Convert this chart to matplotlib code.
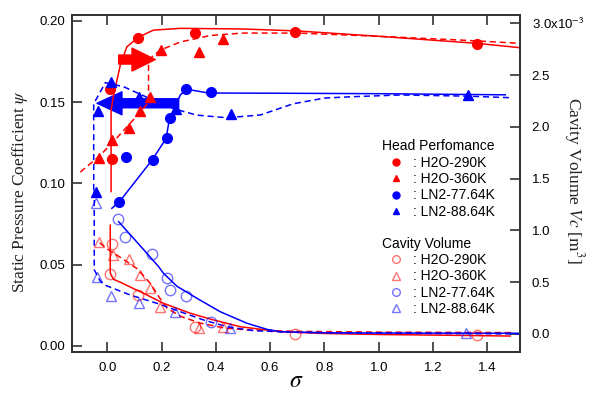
import numpy as np
import matplotlib
matplotlib.use("Agg")
import matplotlib.pyplot as plt
from matplotlib.lines import Line2D
from matplotlib.patches import FancyArrowPatch

plt.rcParams['font.family'] = 'Liberation Sans'
plt.rcParams['mathtext.fontset'] = 'stix'

# ---- head performance (left axis, psi) ----
sig_h290 = [0.011, 0.017, 0.113, 0.324, 0.692, 1.362]
psi_h290 = [0.158, 0.115, 0.1896, 0.1927, 0.1933, 0.1855]
sig_h360 = [-0.03, 0.019, 0.079, 0.12, 0.158, 0.198, 0.336, 0.428]
psi_h360 = [0.1155, 0.127, 0.134, 0.1445, 0.153, 0.182, 0.181, 0.189]
sig_l776 = [0.045, 0.069, 0.167, 0.22, 0.23, 0.29, 0.382]
psi_l776 = [0.0888, 0.116, 0.1144, 0.1277, 0.140, 0.158, 0.156]
sig_l886 = [-0.04, -0.036, 0.014, 0.118, 0.254, 0.456, 1.327]
psi_l886 = [0.0945, 0.1445, 0.1626, 0.153, 0.1458, 0.1425, 0.1544]

# fitted curves
fit_h290_s = [0.014, 0.014, 0.023, 0.048, 0.072, 0.115, 0.17, 0.27, 0.5, 0.7, 1.0, 1.36, 1.52]
fit_h290_p = [0.095, 0.145, 0.154, 0.1728, 0.184, 0.190, 0.1943, 0.1954, 0.195, 0.1938, 0.1905, 0.1862, 0.1835]
fit_h360_s = [-0.099, -0.028, 0.019, 0.079, 0.128, 0.152, 0.152, 0.165, 0.195, 0.269, 0.379, 0.5, 0.7, 1.0, 1.3, 1.52]
fit_h360_p = [0.107, 0.117, 0.125, 0.136, 0.145, 0.150, 0.1728, 0.178, 0.182, 0.187, 0.191, 0.1925, 0.1925, 0.1905, 0.1882, 0.1862]
fit_l776_s = [0.017, 0.045, 0.165, 0.217, 0.229, 0.269, 0.291, 0.373, 0.6, 1.0, 1.466]
fit_l776_p = [0.0847, 0.0888, 0.1144, 0.1277, 0.140, 0.1544, 0.158, 0.1556, 0.1555, 0.1552, 0.1545]
fit_l886_s = [-0.05, -0.05, -0.007, 0.06, 0.146, 0.244, 0.33, 0.44, 0.564, 0.685, 0.8, 0.895, 1.079, 1.325, 1.49]
fit_l886_p = [0.096, 0.149, 0.162, 0.1595, 0.153, 0.146, 0.142, 0.1404, 0.1421, 0.149, 0.1525, 0.1533, 0.1544, 0.1537, 0.1527]

# ---- cavity volume (right axis, x1e-3 m^3) ----
csig_h290 = [0.017, 0.011, 0.112, 0.324, 0.692, 1.362]
vc_h290 = [0.872, 0.582, 0.38, 0.068, 0.0, -0.01]
csig_h360 = [-0.03, 0.021, 0.08, 0.12, 0.158, 0.196, 0.336, 0.425]
vc_h360 = [0.885, 0.766, 0.72, 0.57, 0.44, 0.265, 0.055, 0.067]
csig_l776 = [0.04, 0.067, 0.164, 0.22, 0.23, 0.29, 0.382]
vc_l776 = [1.11, 0.937, 0.77, 0.537, 0.422, 0.364, 0.111]
csig_l886 = [-0.04, -0.038, 0.012, 0.116, 0.25, 0.453, 1.321]
vc_l886 = [1.267, 0.553, 0.367, 0.3, 0.215, 0.055, 0.007]

cfit_h290_s = [0.011, 0.011, 0.023, 0.048, 0.103, 0.122, 0.207, 0.306, 0.392, 0.49, 0.637, 0.8, 1.0, 1.25, 1.484]
cfit_h290_v = [1.05, 0.586, 0.528, 0.50, 0.43, 0.408, 0.296, 0.20, 0.135, 0.07, 0.022, 0.005, -0.005, -0.012, -0.02]
cfit_h360_s = [-0.028, 0.0, 0.06, 0.11, 0.158, 0.195, 0.22, 0.27, 0.343, 0.43, 0.52, 0.7, 1.0, 1.3, 1.495]
cfit_h360_v = [0.88, 0.82, 0.72, 0.63, 0.49, 0.34, 0.25, 0.17, 0.105, 0.058, 0.038, 0.025, 0.018, 0.015, 0.013]
cfit_l776_s = [0.042, 0.146, 0.189, 0.207, 0.257, 0.33, 0.416, 0.515, 0.588, 0.637, 0.8, 1.0, 1.52]
cfit_l776_v = [1.084, 0.779, 0.65, 0.586, 0.46, 0.345, 0.215, 0.103, 0.045, 0.022, 0.012, 0.009, 0.007]
cfit_l886_s = [-0.048, -0.048, -0.026, -0.007, 0.085, 0.183, 0.269, 0.355, 0.441, 0.539, 0.7, 1.0, 1.52]
cfit_l886_v = [1.39, 0.62, 0.51, 0.47, 0.376, 0.296, 0.215, 0.135, 0.07, 0.032, 0.015, 0.008, 0.0]

legend_labels = [': H2O-290K', ': H2O-360K', ': LN2-77.64K', ': LN2-88.64K']

# arrows (tail, tip) in data coords
red_arrow = [(0.042, 0.1762), (0.177, 0.1762)]
blue_arrow = [(0.263, 0.1493), (-0.038, 0.1493)]

RED = '#ff0000'
BLUE = '#0000ff'
spine_c = '#333333'

fig = plt.figure(figsize=(5.9, 3.94), dpi=100)
ax = fig.add_axes([0.122, 0.1066, 0.7593, 0.8553])
ax2 = ax.twinx()

# arrows below markers
for (tail, tip), col, hl in [(red_arrow, RED, 16.8), (blue_arrow, BLUE, 18.0)]:
    arr = FancyArrowPatch(tail, tip, arrowstyle='simple,head_length=%g,head_width=16.5,tail_width=6.5' % hl,
                          mutation_scale=1, color=col, shrinkA=0, shrinkB=0, zorder=1)
    ax.add_patch(arr)

lw = 1.1
ax.plot(fit_h290_s, fit_h290_p, color=RED, lw=lw, zorder=2)
ax.plot(fit_h360_s, fit_h360_p, color=RED, lw=lw, ls=(0, (4, 2.5)), zorder=2)
ax.plot(fit_l776_s, fit_l776_p, color=BLUE, lw=lw, zorder=2)
ax.plot(fit_l886_s, fit_l886_p, color=BLUE, lw=lw, ls=(0, (4, 2.5)), zorder=2)

ms = 7
ax.plot(sig_h290, psi_h290, ls='none', marker='o', ms=ms, color=RED, zorder=3)
ax.plot(sig_h360, psi_h360, ls='none', marker='^', ms=ms, color=RED, zorder=3)
ax.plot(sig_l776, psi_l776, ls='none', marker='o', ms=ms, color=BLUE, zorder=3)
ax.plot(sig_l886, psi_l886, ls='none', marker='^', ms=ms, color=BLUE, zorder=3)

ax2.plot(cfit_h290_s, cfit_h290_v, color=RED, lw=lw)
ax2.plot(cfit_h360_s, cfit_h360_v, color=RED, lw=lw, ls=(0, (4, 2.5)))
ax2.plot(cfit_l776_s, cfit_l776_v, color=BLUE, lw=lw)
ax2.plot(cfit_l886_s, cfit_l886_v, color=BLUE, lw=lw, ls=(0, (4, 2.5)))

oms = 7.5
oa = 0.55
ax2.plot(csig_h290, vc_h290, ls='none', marker='o', ms=oms, mfc='none', mec=RED, mew=1.0, alpha=oa)
ax2.plot(csig_h360, vc_h360, ls='none', marker='^', ms=oms, mfc='none', mec=RED, mew=1.0, alpha=oa)
ax2.plot(csig_l776, vc_l776, ls='none', marker='o', ms=oms, mfc='none', mec=BLUE, mew=1.0, alpha=oa)
ax2.plot(csig_l886, vc_l886, ls='none', marker='^', ms=oms, mfc='none', mec=BLUE, mew=1.0, alpha=oa)

ax.set_xlim(-0.13, 1.52)
ax.set_ylim(-0.0037, 0.2036)
ax2.set_ylim(-0.174, 3.08)

ax.set_xticks(np.arange(0, 1.41, 0.2))
ax.set_xticklabels(['%.1f' % v for v in np.arange(0, 1.41, 0.2)])
ax.set_yticks(np.arange(0, 0.201, 0.05))
ax.set_yticklabels(['%.2f' % v for v in np.arange(0, 0.201, 0.05)])
rt = np.arange(0, 3.01, 0.5)
ax2.set_yticks(rt)
ax2.set_yticklabels(['%.1f' % v for v in rt[:-1]] + [r'3.0x10$^{\mathsf{-3}}$'])

ax.tick_params(axis='both', direction='in', length=7, width=1.2, color=spine_c, labelsize=9.5)
ax.tick_params(axis='x', top=True, pad=7)
ax.tick_params(axis='y', pad=5)
ax2.tick_params(axis='y', direction='in', length=7, width=1.2, color=spine_c, labelsize=9.5, pad=8.5)
for a in (ax, ax2):
    for sp in a.spines.values():
        sp.set_color(spine_c)
        sp.set_linewidth(1.4)

fig.text(0.034, 1 - 191 / 394, r'Static Pressure Coefficient $\psi$', rotation=90,
         ha='center', va='center', fontsize=12.5, family='Liberation Serif', color='#222222')
fig.text(574 / 590, 1 - 180 / 394, r'Cavity Volume $Vc$ [$\mathrm{m}^{3}$]', rotation=270,
         ha='center', va='center', fontsize=12.5, family='Liberation Serif', color='#222222')
fig.text(296 / 590, 1 - 381 / 394, r'$\sigma$', ha='center', va='center', fontsize=17)

lms = 5
h_head = [Line2D([], [], ls='none', marker=m, color=c, ms=lms)
          for m, c in [('o', RED), ('^', RED), ('o', BLUE), ('^', BLUE)]]
h_cav = [Line2D([], [], ls='none', marker=m, mfc='none', mec=c, mew=1.0, alpha=oa, ms=lms + 0.5)
         for m, c in [('o', RED), ('^', RED), ('o', BLUE), ('^', BLUE)]]
leg_kw = dict(loc='upper left', frameon=False, alignment='left', handlelength=2.1,
              handletextpad=0.2, labelspacing=0.17, borderpad=0, borderaxespad=0,
              fontsize=10, title_fontsize=10)
leg1 = ax2.legend(h_head, legend_labels, title='Head Perfomance', bbox_to_anchor=(0.691, 0.631), **leg_kw)
ax2.add_artist(leg1)
leg2 = ax2.legend(h_cav, legend_labels, title='Cavity Volume', bbox_to_anchor=(0.691, 0.342), **leg_kw)

fig.savefig('out.png', dpi=100)
